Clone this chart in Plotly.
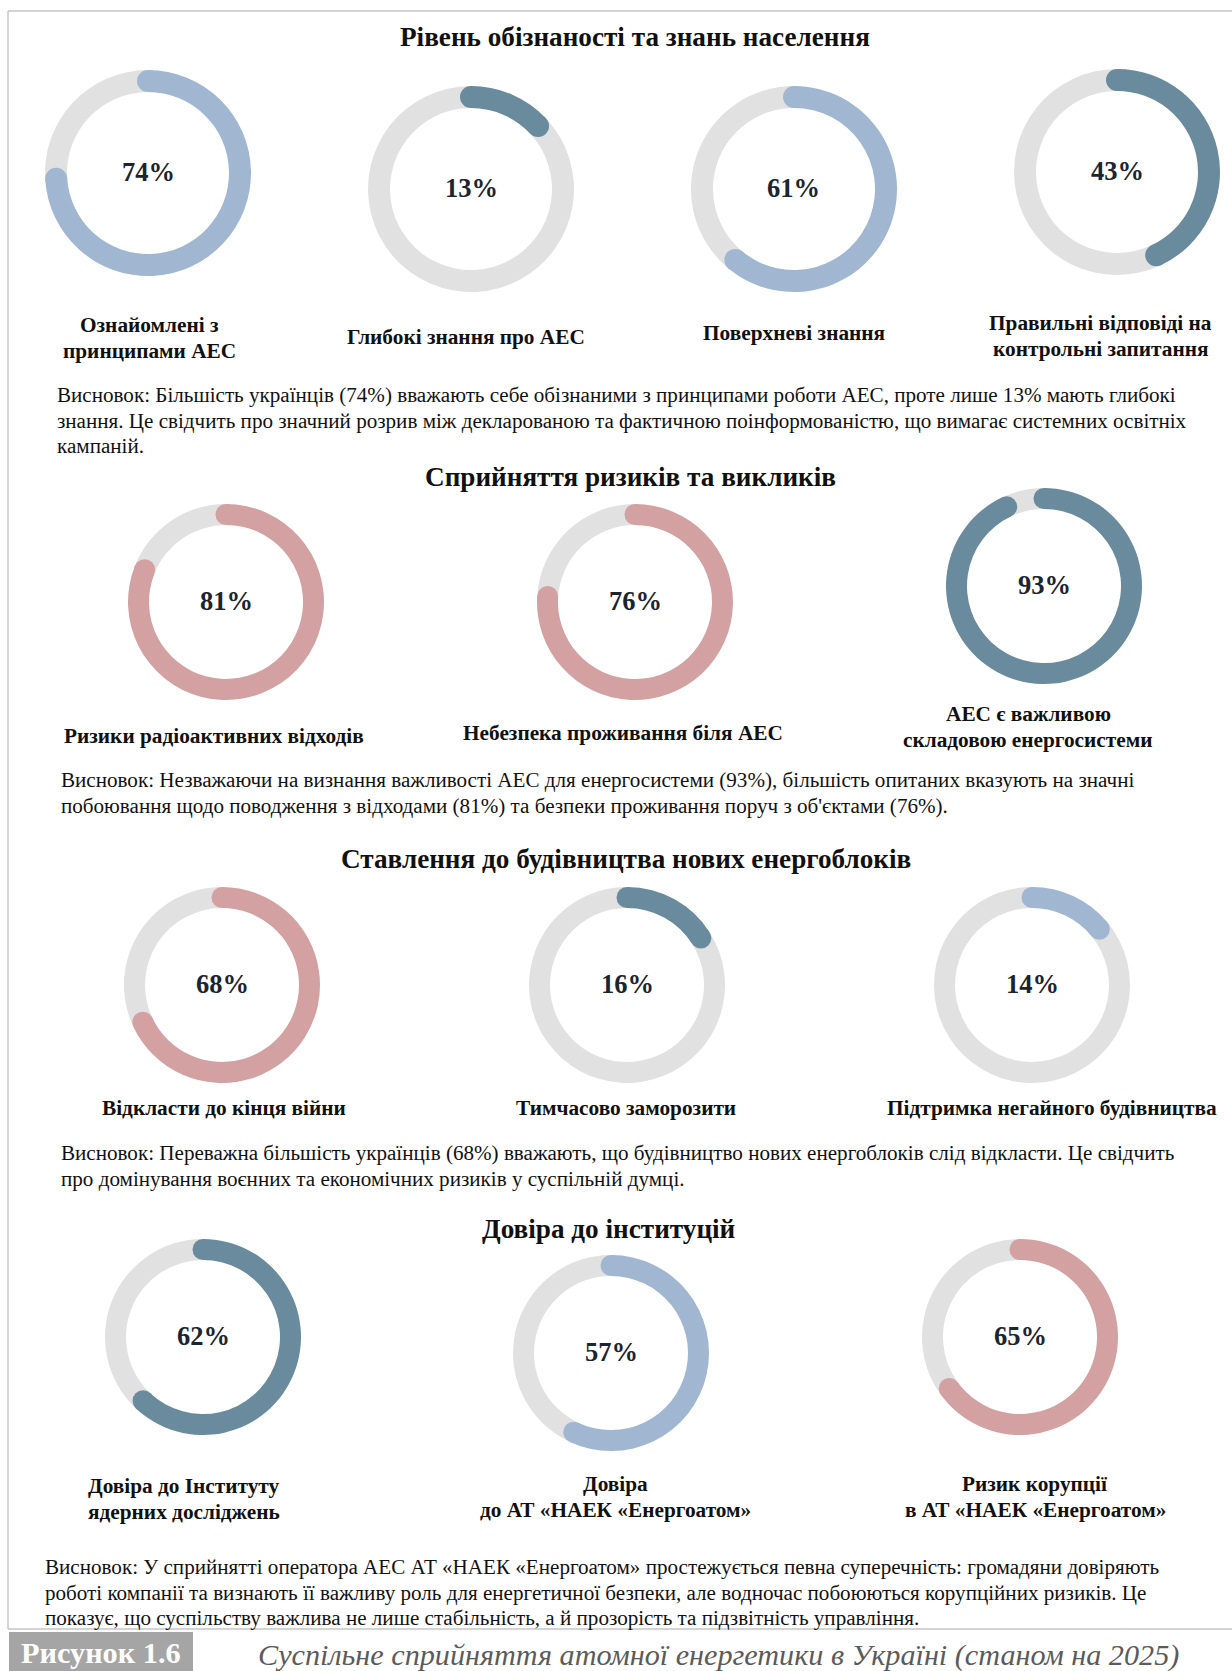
import math
import plotly.graph_objects as go

# ---------------- DATA ----------------
section_titles = [
    "Рівень обізнаності та знань населення",
    "Сприйняття ризиків та викликів",
    "Ставлення до будівництва нових енергоблоків",
    "Довіра до інституцій",
]

s1_labels = ["Ознайомлені з\nпринципами АЕС", "Глибокі знання про АЕС",
             "Поверхневі знання", "Правильні відповіді на\nконтрольні запитання"]
s1_values = [74, 13, 61, 43]

s2_labels = ["Ризики радіоактивних відходів", "Небезпека проживання біля АЕС",
             "АЕС є важливою\nскладовою енергосистеми"]
s2_values = [81, 76, 93]

s3_labels = ["Відкласти до кінця війни", "Тимчасово заморозити",
             "Підтримка негайного будівництва"]
s3_values = [68, 16, 14]

s4_labels = ["Довіра до Інституту\nядерних досліджень", "Довіра\nдо АТ «НАЕК «Енергоатом»",
             "Ризик корупції\nв АТ «НАЕК «Енергоатом»"]
s4_values = [62, 57, 65]

conclusions = [
    "Висновок: Більшість українців (74%) вважають себе обізнаними з принципами роботи АЕС, проте лише 13% мають глибокі\n"
    "знання. Це свідчить про значний розрив між декларованою та фактичною поінформованістю, що вимагає системних освітніх\n"
    "кампаній.",
    "Висновок: Незважаючи на визнання важливості АЕС для енергосистеми (93%), більшість опитаних вказують на значні\n"
    "побоювання щодо поводження з відходами (81%) та безпеки проживання поруч з об'єктами (76%).",
    "Висновок: Переважна більшість українців (68%) вважають, що будівництво нових енергоблоків слід відкласти. Це свідчить\n"
    "про домінування воєнних та економічних ризиків у суспільній думці.",
    "Висновок: У сприйнятті оператора АЕС АТ «НАЕК «Енергоатом» простежується певна суперечність: громадяни довіряють\n"
    "роботі компанії та визнають її важливу роль для енергетичної безпеки, але водночас побоюються корупційних ризиків. Це\n"
    "показує, що суспільству важлива не лише стабільність, а й прозорість та підзвітність управління.",
]

figure_tag = "Рисунок 1.6"
figure_caption = "Суспільне сприйняття атомної енергетики в Україні (станом на 2025)"

# ---------------- STYLE / LAYOUT ----------------
W, H = 1232, 1671
SERIF = "Liberation Serif, Times New Roman, serif"
BLUE, TEAL, ROSE, TRACK = "#a1b7d1", "#698b9d", "#d4a1a2", "#e1e1e1"
TXT = "#111111"

s1_colors = [BLUE, TEAL, BLUE, TEAL]
s2_colors = [ROSE, ROSE, TEAL]
s3_colors = [ROSE, TEAL, BLUE]
s4_colors = [TEAL, BLUE, ROSE]

# donut centres (px), outer radius, ring thickness
s1_pos = [(148, 173), (471, 189), (794, 189), (1117, 172)]
s2_pos = [(226, 602), (635, 602), (1044, 586)]
s3_pos = [(222, 985), (627, 985), (1032, 985)]
s4_pos = [(203, 1337), (611, 1353), (1020, 1337)]
s1_R, s1_t = 103, 22
sx_R, sx_t = 98, 21

s1_lab = [(149, 325), (466, 337), (794, 333), (1100, 323)]
s2_lab = [(214, 736), (623, 733), (1028, 714)]
s3_lab = [(224, 1108), (626, 1108), (1052, 1108)]
s4_lab = [(184, 1486), (615, 1484), (1035, 1484)]

title_pos = [(635, 37), (630, 477), (626, 859), (608, 1229)]
concl_pos = [(55, 395), (59, 780), (59, 1153), (43, 1567)]

fig = go.Figure()
shapes = []
annotations = []


def px(x):
    return x / W


def py(y):
    return 1 - y / H


def add_text(text, x, y, size, bold=False, xanchor="center", spacing=25.5,
             color=TXT, italic=False):
    for i, line in enumerate(text.split("\n")):
        s = line
        if bold:
            s = f"<b>{s}</b>"
        if italic:
            s = f"<i>{s}</i>"
        annotations.append(dict(text=s, x=px(x), y=py(y + i * spacing),
                                xref="paper", yref="paper", xanchor=xanchor,
                                yanchor="middle", showarrow=False,
                                font=dict(family=SERIF, size=size, color=color)))


def add_donut(value, color, cx, cy, R, t):
    fig.add_trace(go.Pie(
        values=[value, 100 - value],
        marker=dict(colors=[color, TRACK], line=dict(width=0)),
        hole=(R - t) / R,
        sort=False, direction="clockwise", rotation=0,
        textinfo="none", hoverinfo="skip", showlegend=False,
        domain=dict(x=[px(cx - R), px(cx + R)], y=[py(cy + R), py(cy - R)]),
    ))
    # rounded caps at both ends of the arc
    rm = R - t / 2
    for ang in (0.0, value / 100 * 2 * math.pi):
        ex = cx + rm * math.sin(ang)
        ey = cy - rm * math.cos(ang)
        shapes.append(dict(type="circle", xref="paper", yref="paper", layer="above",
                           x0=px(ex - t / 2), x1=px(ex + t / 2),
                           y0=py(ey + t / 2), y1=py(ey - t / 2),
                           fillcolor=color, line=dict(width=0)))
    add_text(f"{value}%", cx, cy - 1, 26.5, bold=True, color="#1b2531")


sections = [
    (s1_labels, s1_values, s1_colors, s1_pos, s1_lab, s1_R, s1_t),
    (s2_labels, s2_values, s2_colors, s2_pos, s2_lab, sx_R, sx_t),
    (s3_labels, s3_values, s3_colors, s3_pos, s3_lab, sx_R, sx_t),
    (s4_labels, s4_values, s4_colors, s4_pos, s4_lab, sx_R, sx_t),
]

for k, (labels, values, colors, pos, lab, R, t) in enumerate(sections):
    tx, ty = title_pos[k]
    add_text(section_titles[k], tx, ty, 27.2, bold=True)
    for lbl, v, c, (cx, cy), (lx, ly) in zip(labels, values, colors, pos, lab):
        add_donut(v, c, cx, cy, R, t)
        add_text(lbl, lx, ly, 21.3, bold=True, spacing=25.5)
    cxp, cyp = concl_pos[k]
    add_text(conclusions[k], cxp, cyp, 21.1, xanchor="left", spacing=25.6)

# frame and footer
FRAME = "#c6c6c6"
shapes.append(dict(type="line", xref="paper", yref="paper", layer="below",
                   x0=px(8), x1=px(8), y0=py(11), y1=py(1629),
                   line=dict(color=FRAME, width=1.5)))
shapes.append(dict(type="line", xref="paper", yref="paper", layer="below",
                   x0=px(8), x1=1, y0=py(11), y1=py(11),
                   line=dict(color=FRAME, width=1.5)))
shapes.append(dict(type="line", xref="paper", yref="paper", layer="below",
                   x0=px(8), x1=1, y0=py(1629), y1=py(1629),
                   line=dict(color=FRAME, width=1.5)))
shapes.append(dict(type="rect", xref="paper", yref="paper", layer="below",
                   x0=px(9), x1=px(193), y0=0, y1=py(1632),
                   fillcolor="#a5a5a5", line=dict(width=0)))
add_text(figure_tag, 101, 1653, 30.3, bold=True, color="#ffffff")
add_text(figure_caption, 256, 1655, 30.2, italic=True, xanchor="left", color="#5b5b5b")

fig.update_layout(
    width=W, height=H,
    margin=dict(l=0, r=0, t=0, b=0),
    paper_bgcolor="#ffffff", plot_bgcolor="#ffffff",
    shapes=shapes, annotations=annotations,
    showlegend=False,
)

fig.write_html("out.html", config={"displayModeBar": False},
               post_script="document.body.style.margin='0';document.body.style.overflow='hidden';")
